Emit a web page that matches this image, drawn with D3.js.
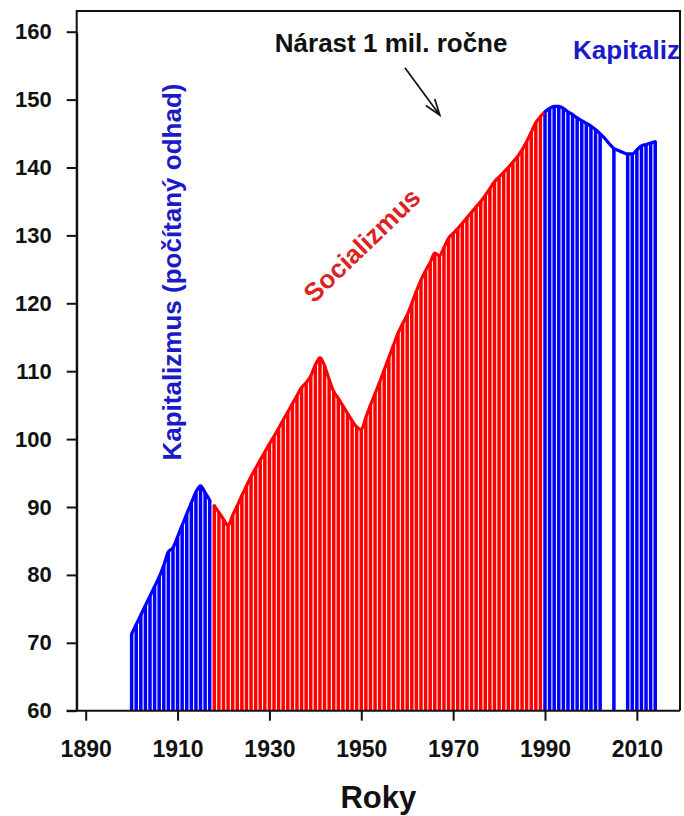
<!DOCTYPE html>
<html><head><meta charset="utf-8">
<script src="https://cdn.jsdelivr.net/npm/d3@7"></script>
<style>
html,body{margin:0;padding:0;background:#fff;}
text{font-family:"Liberation Sans",Arial,sans-serif;font-weight:bold;}
</style></head>
<body><svg id="chart" width="684" height="816"></svg>
<script>
// ---- data ----
const years = d3.range(1900, 2015);
const population = [
 71.3,72.7,74.1,75.5,76.9,78.3,79.7,81.4,83.4,84.0,
 85.6,87.3,89.0,90.6,92.2,93.1,92.1,91.0,90.2,89.2,
 88.2,87.3,88.8,90.2,91.7,93.1,94.5,95.7,96.9,98.1,
 99.3,100.4,101.6,102.8,104.0,105.2,106.4,107.6,108.3,109.3,
 110.9,112.0,110.8,108.8,107.0,106.0,104.9,103.8,102.7,101.8,
 101.4,103.2,105.0,106.7,108.4,110.2,112.0,113.8,115.6,117.0,
 118.3,120.0,121.8,123.4,124.8,126.0,127.4,127.0,128.2,129.6,
 130.3,131.0,131.8,132.6,133.4,134.2,135.0,135.9,136.9,137.9,
 138.6,139.3,140.0,140.8,141.6,142.6,143.8,145.2,146.6,147.5,
 148.2,148.7,149.0,149.0,148.7,148.2,147.8,147.3,146.9,146.5,
 146.1,145.6,145.0,144.3,143.5,142.8,142.5,142.2,142.0,142.0,
 142.6,143.2,143.4,143.6,143.8
];
const eraNames = ["Kapitalizmus (počítaný odhad)", "Socializmus", "Kapitaliz"];
const eraStart = [1900, 1918, 1990];
const eraEnd   = [1917, 1990, 2014];
const eraColors = ["#0000ff", "#ff0000", "#0000ff"];
const gapYears = [2003, 2004, 2006, 2007];
const yTicks = d3.range(60, 161, 10);
const xTicks = d3.range(1890, 2011, 20);
const note = "Nárast 1 mil. ročne";
const xTitle = "Roky";

// ---- layout ----
const svg = d3.select("#chart");
const L = 76.7, R = 680, T = 11, B = 710.7;
const x = d3.scaleLinear().domain([1890, 1990]).range([85.7, 545]);
const y = d3.scaleLinear().domain([60, 160]).range([710.7, 31.7]);
const data = years.map((yr, i) => ({year: yr, value: population[i]}));
const eraOf = yr => eraStart.reduce((acc, s, i) => yr >= s ? i : acc, 0);

svg.append("defs").append("clipPath").attr("id", "clip")
  .append("rect").attr("x", L).attr("y", T).attr("width", R - L).attr("height", B - T);
const plot = svg.append("g").attr("clip-path", "url(#clip)");

// bars
const bw = 3.5;
plot.selectAll("rect.bar").data(data.filter(d => !gapYears.includes(d.year)))
  .enter().append("rect").attr("class", "bar")
  .attr("x", d => x(d.year) - bw / 2).attr("width", bw)
  .attr("y", d => y(d.value)).attr("height", d => y(60) - y(d.value))
  .attr("fill", d => eraColors[d.year === 1990 ? 2 : eraOf(d.year)]);

// outline lines
const line = d3.line().x(d => x(d.year)).y(d => y(d.value)).curve(d3.curveMonotoneX);
eraStart.forEach((s, i) => {
  plot.append("path").datum(data.filter(d => d.year >= s && d.year <= eraEnd[i]))
    .attr("d", line).attr("fill", "none").attr("stroke", eraColors[i])
    .attr("stroke-width", 3.2).attr("stroke-linejoin", "round").attr("stroke-linecap", "round");
});

// era labels
plot.append("text").text(eraNames[0])
  .attr("transform", `translate(${x(1910.8)},${y(124.6)}) rotate(-90)`)
  .attr("text-anchor", "middle").attr("font-size", 26).attr("fill", "#1a1ac8");
plot.append("text").text(eraNames[1])
  .attr("transform", `translate(${x(1951.5)},${y(127.6)}) rotate(-44)`)
  .attr("text-anchor", "middle").attr("font-size", 26).attr("fill", "#dd2222");
plot.append("text").text(eraNames[2])
  .attr("x", x(1996.1)).attr("y", y(156.0))
  .attr("font-size", 26).attr("fill", "#1a1ac8");

// note + arrow
svg.append("text").text(note).attr("x", x(1956.5)).attr("y", y(157.0))
  .attr("text-anchor", "middle").attr("font-size", 26).attr("fill", "#111");
const ax0 = x(1959.5), ay0 = y(154.7), ax1 = x(1967.1), ay1 = y(147.7);
const ang = Math.atan2(ay1 - ay0, ax1 - ax0), hl = 17, ha = 0.33;
svg.append("path")
  .attr("d", `M${ax0},${ay0}L${ax1},${ay1}M${ax1 - hl*Math.cos(ang - ha)},${ay1 - hl*Math.sin(ang - ha)}L${ax1},${ay1}L${ax1 - hl*Math.cos(ang + ha)},${ay1 - hl*Math.sin(ang + ha)}`)
  .attr("fill", "none").attr("stroke", "#111").attr("stroke-width", 1.7);

// box
svg.append("path").attr("d", `M${L},${B}L${L},${T}L${R},${T}L${R},${B}`)
  .attr("fill", "none").attr("stroke", "#111").attr("stroke-width", 2);

// axes
const yAxis = svg.append("g").attr("transform", `translate(${L},0)`)
  .call(d3.axisLeft(y).tickValues(yTicks).tickSize(10).tickPadding(15).tickSizeOuter(0));
const xAxis = svg.append("g").attr("transform", `translate(0,${B})`)
  .call(d3.axisBottom(x).tickValues(xTicks).tickFormat(d3.format("d")).tickSize(10).tickPadding(20).tickSizeOuter(0));
[yAxis, xAxis].forEach(g => {
  g.selectAll("path.domain").attr("stroke", "#111").attr("stroke-width", 2);
  g.selectAll(".tick line").attr("stroke", "#111").attr("stroke-width", 2);
  g.selectAll(".tick text").attr("fill", "#111")
    .attr("font-family", "'Liberation Sans', Arial, sans-serif").attr("font-weight", "bold");
});
yAxis.selectAll(".tick text").attr("font-size", 22);
xAxis.selectAll(".tick text").attr("font-size", 23);
xAxis.select("path.domain").attr("d", `M${L - 10},0H${R}`);

svg.append("text").text(xTitle).attr("x", (L + R) / 2).attr("y", 808)
  .attr("text-anchor", "middle").attr("font-size", 31).attr("fill", "#111");
</script></body></html>
